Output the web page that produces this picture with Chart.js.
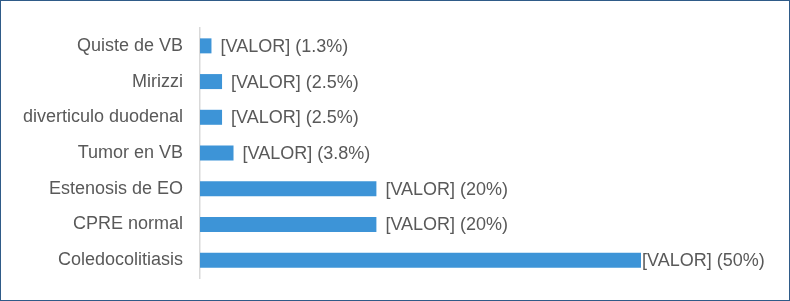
<!DOCTYPE html>
<html lang="es">
<head>
<meta charset="UTF-8">
<title>Causas</title>
<style>
  body { margin: 0; background: #fff; }
  .frame { width: 790px; height: 301px; box-sizing: border-box; border: 1px solid #2f5b88; }
  canvas { display: block; }
</style>
</head>
<body>
<div class="frame"><canvas id="myChart" width="788" height="299"></canvas></div>
<script src="https://cdn.jsdelivr.net/npm/chart.js@4.4.0/dist/chart.umd.min.js"></script>
<script>
var categorias = ['Quiste de VB', 'Mirizzi', 'diverticulo duodenal', 'Tumor en VB', 'Estenosis de EO', 'CPRE normal', 'Coledocolitiasis'];
var porcentajes = [1.3, 2.5, 2.5, 3.8, 20, 20, 50];
var etiquetas = ['[VALOR] (1.3%)', '[VALOR] (2.5%)', '[VALOR] (2.5%)', '[VALOR] (3.8%)', '[VALOR] (20%)', '[VALOR] (20%)', '[VALOR] (50%)'];

var fuente = '"Liberation Sans", Arial, sans-serif';

// etiquetas de datos al final de cada barra
var etiquetasPlugin = {
    id: 'etiquetas',
    afterDatasetsDraw: function(chart) {
        var ctx = chart.ctx;
        var meta = chart.getDatasetMeta(0);
        ctx.save();
        ctx.font = '18px ' + fuente;
        ctx.fillStyle = '#595959';
        ctx.textBaseline = 'middle';
        meta.data.forEach(function(bar, i) {
            var texto = etiquetas[i];
            var w = ctx.measureText(texto).width;
            var x = Math.min(bar.x + 9, chart.width - 30 - w);
            x = Math.max(x, bar.x + 1);
            ctx.fillText(texto, x, bar.y + 1);
        });
        ctx.restore();
    }
};

var chart = new Chart(document.getElementById('myChart').getContext('2d'), {
    type: 'bar',
    data: {
        labels: categorias,
        datasets: [{
            data: porcentajes,
            backgroundColor: '#3d94d7',
            barPercentage: 0.84,
            categoryPercentage: 0.5
        }]
    },
    plugins: [etiquetasPlugin],
    options: {
        indexAxis: 'y',
        responsive: false,
        animation: false,
        layout: { padding: { top: 27, bottom: 22, right: 148, left: 0 } },
        plugins: { legend: { display: false }, tooltip: { enabled: false } },
        scales: {
            x: { display: false, min: 0, max: 50 },
            y: {
                afterFit: function(s) { s.width = 199; },
                grid: { display: false },
                border: { display: true, color: '#d9d9d9', width: 1.5 },
                ticks: { color: '#595959', font: { family: fuente, size: 18 }, padding: 9 }
            }
        }
    }
});
</script>
</body>
</html>
